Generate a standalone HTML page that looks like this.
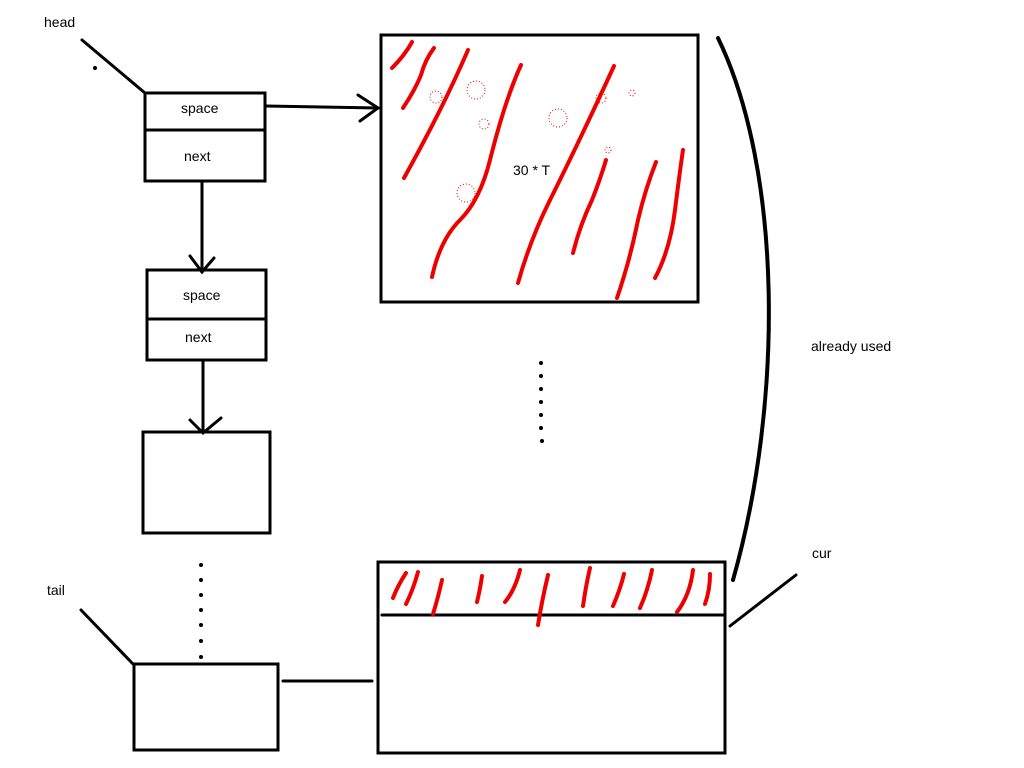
<!DOCTYPE html>
<html><head><meta charset="utf-8"><style>
html,body{margin:0;padding:0;background:#fff;}
svg{display:block;}
text{font-family:"Liberation Sans",sans-serif;font-size:14px;fill:#000;}
</style></head><body>
<svg width="1024" height="768" viewBox="0 0 1024 768" xmlns="http://www.w3.org/2000/svg">
<g fill="none" stroke="#000" stroke-width="3" stroke-linecap="round">
<rect x="145" y="93" width="120" height="88"/>
<line x1="145" y1="130" x2="265" y2="130"/>
<rect x="147" y="270" width="119" height="90"/>
<line x1="147" y1="319" x2="266" y2="319"/>
<rect x="143" y="432" width="127" height="101"/>
<rect x="134" y="664" width="144" height="86"/>
<rect x="381" y="35" width="317" height="267"/>
<rect x="378" y="562" width="347" height="191"/>
<line x1="382" y1="615" x2="725" y2="615"/>
<line x1="82" y1="40" x2="145" y2="93"/>
<line x1="266" y1="106" x2="378" y2="108"/>
<polyline points="358,95 378,108 360,121"/>
<line x1="202" y1="181" x2="202" y2="272"/>
<polyline points="190,256 202,272 214,258"/>
<line x1="203" y1="362" x2="203" y2="432"/>
<polyline points="190,420 203,433 221,418"/>
<line x1="81" y1="610" x2="133" y2="664"/>
<line x1="283" y1="681" x2="372" y2="681"/>
<path d="M718,38 C782,170 784,400 733,580" stroke-width="4"/>
<line x1="730" y1="626" x2="796" y2="575"/>
</g>
<g fill="#000">
<circle cx="95" cy="68" r="2"/>
<circle cx="541" cy="363" r="2"/><circle cx="541" cy="376" r="2"/><circle cx="541" cy="389" r="2"/><circle cx="541" cy="402" r="2"/><circle cx="541" cy="415" r="2"/><circle cx="541" cy="428" r="2"/><circle cx="542" cy="441" r="2"/>
<circle cx="201" cy="565" r="2"/><circle cx="201" cy="580" r="2"/><circle cx="201" cy="595" r="2"/><circle cx="201" cy="610" r="2"/><circle cx="201" cy="625" r="2"/><circle cx="201" cy="641" r="2"/><circle cx="201" cy="657" r="2"/>
</g>
<g fill="none" stroke="#e00" stroke-width="4" stroke-linecap="round">
<path d="M392,68 Q405,55 412,42"/>
<path d="M403,108 Q415,90 421,75 Q425,60 434,48"/>
<path d="M404,178 Q425,140 440,110 Q455,80 468,50"/>
<path d="M432,277 Q440,240 460,220 Q480,200 490,160 Q505,100 521,65"/>
<path d="M518,283 Q530,240 550,200 Q580,140 614,66"/>
<path d="M573,253 Q580,225 592,200 Q600,180 606,160"/>
<path d="M617,298 Q630,260 638,220 Q645,190 656,162"/>
<path d="M655,278 Q670,250 675,210 Q680,170 683,150"/>
<path d="M393,598 Q398,585 406,573"/>
<path d="M406,604 Q413,590 418,572"/>
<path d="M433,614 Q438,598 442,580"/>
<path d="M477,602 Q480,590 482,576"/>
<path d="M505,602 Q515,590 520,570"/>
<path d="M538,625 Q542,600 548,575"/>
<path d="M583,606 Q586,585 590,568"/>
<path d="M613,606 Q620,590 624,574"/>
<path d="M640,608 Q648,590 652,570"/>
<path d="M677,612 Q690,595 693,570"/>
<path d="M705,604 Q710,590 710,574"/>
</g>
<g fill="none" stroke="#e00" stroke-width="1" stroke-dasharray="1,2">
<circle cx="436" cy="97" r="6"/><circle cx="476" cy="90" r="9"/><circle cx="484" cy="124" r="5"/>
<circle cx="466" cy="193" r="9"/><circle cx="558" cy="118" r="9"/><circle cx="601" cy="98" r="5"/><circle cx="632" cy="93" r="3"/><circle cx="608" cy="150" r="3"/>
</g>
<text x="44" y="27">head</text>
<text x="181" y="113">space</text>
<text x="184" y="161">next</text>
<text x="183" y="300">space</text>
<text x="185" y="342">next</text>
<text x="513" y="175">30 * T</text>
<text x="811" y="351">already used</text>
<text x="812" y="558">cur</text>
<text x="47" y="595">tail</text>
</svg>
</body></html>
